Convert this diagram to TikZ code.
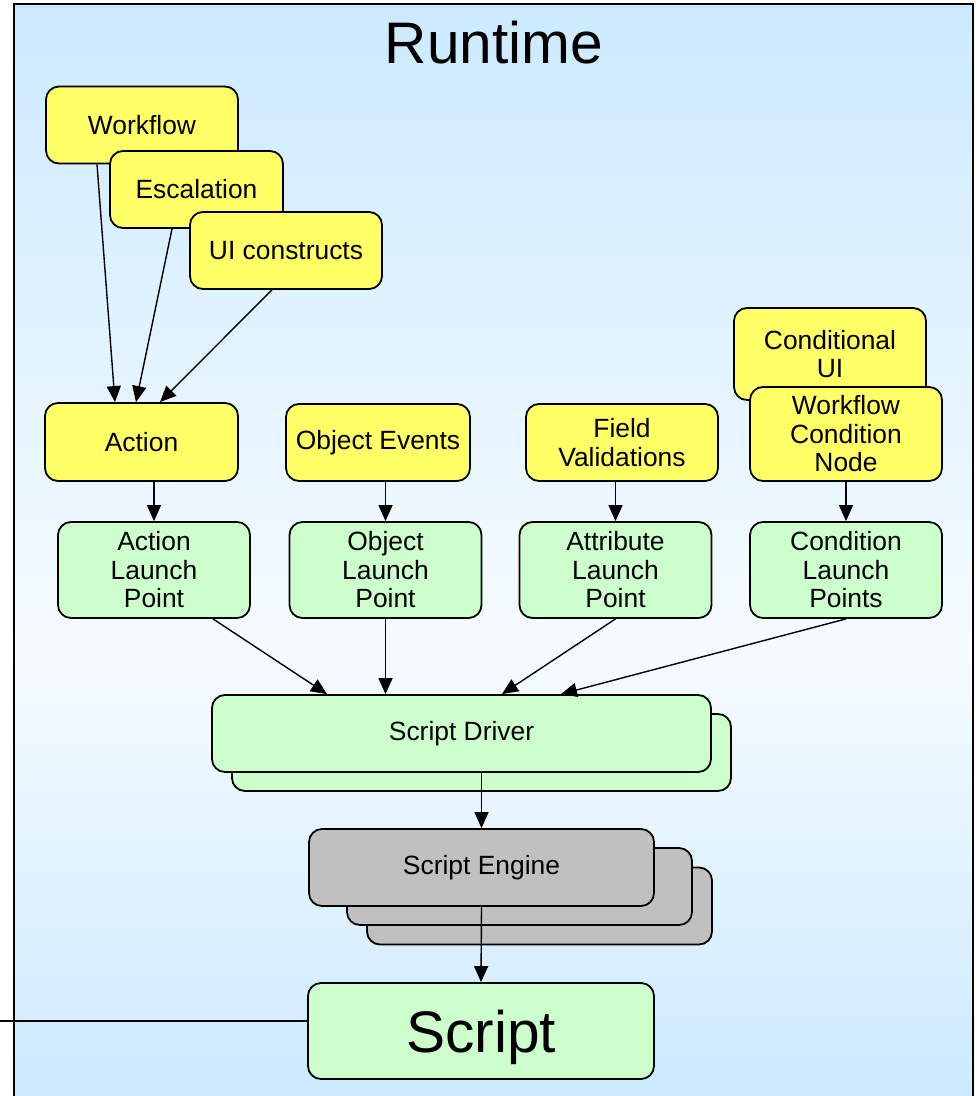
\documentclass[tikz,border=0pt]{standalone}
\usepackage{fontspec}
\setmainfont{Liberation Sans}
\usepackage{tikz}
\usetikzlibrary{arrows.meta,positioning,calc}

\definecolor{bgblue}{RGB}{204,234,255}
\definecolor{bgwhite}{RGB}{246,251,255}
\definecolor{trigyellow}{RGB}{255,255,102}
\definecolor{launchgreen}{RGB}{204,255,204}
\definecolor{enginegray}{RGB}{192,192,192}

\begin{document}
\begin{tikzpicture}[
    x=0.5pt, y=-0.5pt,
    font=\fontsize{13.2}{14.25}\selectfont,
    box/.style={draw, rounded corners=6.5pt, align=center, line width=0.9pt, inner sep=1pt},
    trigger/.style={box, fill=trigyellow, minimum width=96pt, minimum height=38.5pt},
    launch/.style={box, fill=launchgreen, minimum width=96pt, minimum height=48pt},
    engine/.style={box, fill=enginegray, minimum width=172.5pt, minimum height=38.5pt},
    arrow/.style={-{Triangle[length=8pt,width=7pt]}, line width=0.7pt}
]
\useasboundingbox (0,0) rectangle (977,1096);

% runtime frame
\fill[bgblue] (14,4) rectangle (973,1096);
\shade[top color=bgblue, bottom color=bgwhite] (14,4) rectangle (973,650);
\shade[top color=bgwhite, bottom color=bgblue] (14,650) rectangle (973,1096);
\draw[line width=1.2pt] (14,1096) |- (973,4) -- (973,1096);
\node[anchor=base, font=\fontsize{29.3}{32}\selectfont] (runtime) at (494,64) {Runtime};

% sources
\node[trigger] (workflow) at (142,125) {Workflow};
\node[trigger, minimum width=86.5pt] (escalation) at (196.5,189.5) {Escalation};
\node[trigger] (uicons) at (286,250.5) {UI constructs};

\node[trigger, minimum width=96.5pt, minimum height=39pt] (action) at (141.5,442) {Action};
\node[trigger, minimum width=92pt] (objev) at (378,442.5) {Object Events};
\node[trigger] (fieldval) at (622,442.5) {Field\\Validations};
\node[trigger, minimum height=46pt] (condui) at (830,354) {Conditional\\UI};
\node[trigger, minimum height=47pt] (wfcond) at (846,434) {Workflow\\Condition\\Node};

% launch points
\node[launch] (alp) at (154,570) {Action\\Launch\\Point};
\node[launch] (olp) at (385.5,570) {Object\\Launch\\Point};
\node[launch] (attlp) at (615.5,570) {Attribute\\Launch\\Point};
\node[launch] (clp) at (846,570) {Condition\\Launch\\Points};

% driver and engine
\node[launch, minimum width=249.5pt, minimum height=38.5pt] (driverback) at (481.5,752.5) {};
\node[launch, minimum width=249.5pt, minimum height=38.5pt] (driver) at (461.5,733.5) {Script Driver};

\node[engine] (engineback2) at (539.5,906) {};
\node[engine] (engineback1) at (519.5,886.5) {};
\node[engine] (engine) at (481.5,867.5) {Script Engine};

\node[launch, minimum width=173pt, text depth=0pt, font=\fontsize{29.3}{32}\selectfont] (script) at (481,1031) {Script};
\coordinate (feed) at (0,1021);

\draw[arrow] ($(workflow.south)+(-45,0)$) -- ($(action.north)+(-26.5,0)$);
\draw[arrow] ($(escalation.south)+(-24.5,0)$) -- ($(action.north)+(-5.5,0)$);
\draw[arrow] ($(uicons.south)+(-14,0)$) -- ($(action.north)+(18.5,0)$);

\draw[arrow] (alp.north |- action.south) -- (alp.north);
\draw[arrow] (olp.north |- objev.south) -- (olp.north);
\draw[arrow] (attlp.north |- fieldval.south) -- (attlp.north);
\draw[arrow] (wfcond.south) -- (clp.north);

\draw[arrow] ($(alp.south)+(59,0)$) -- ($(driver.north)+(-134.5,0)$);
\draw[arrow] (olp.south) -- (driver.north -| olp.south);
\draw[arrow] (attlp.south) -- ($(driver.north)+(40.5,0)$);
\draw[arrow] (clp.south) -- ($(driver.north)+(99.5,0)$);

\draw[arrow] (engine.north |- driver.south) -- (engine.north);
\draw[arrow] (engine.south) -- (script.north);
\draw[line width=0.7pt] (feed -| script.west) -- (feed);

\end{tikzpicture}
\end{document}
